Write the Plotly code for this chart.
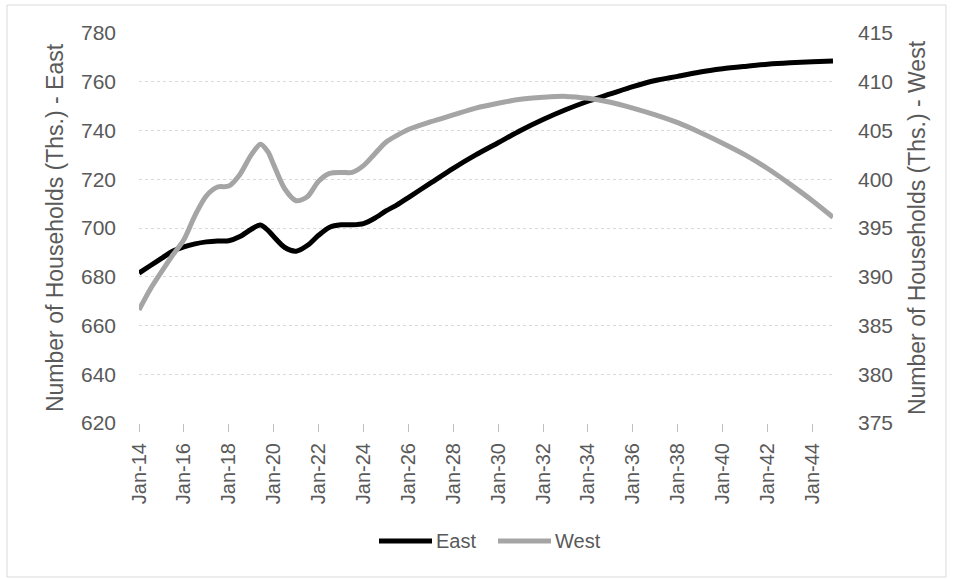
import plotly.graph_objects as go

# Household projections, sampled half-yearly (thousands)
dates = [
    "2014-01-01", "2014-07-01", "2015-01-01", "2015-07-01", "2016-01-01", "2016-07-01",
    "2017-01-01", "2017-07-01", "2018-01-01", "2018-07-01", "2019-01-01", "2019-06-01",
    "2019-10-01", "2020-01-01", "2020-07-01", "2021-01-01", "2021-07-01", "2022-01-01",
    "2022-07-01", "2023-01-01", "2023-07-01", "2024-01-01", "2024-07-01", "2025-01-01",
    "2025-07-01", "2026-01-01", "2027-01-01", "2028-01-01", "2029-01-01", "2030-01-01",
    "2031-01-01", "2032-01-01", "2033-01-01", "2034-01-01", "2035-01-01", "2036-01-01",
    "2037-01-01", "2038-01-01", "2039-01-01", "2040-01-01", "2041-01-01", "2042-01-01",
    "2043-01-01", "2044-01-01", "2044-12-01",
]

east = [
    681.5, 684.5, 687.5, 690.5, 692.3, 693.5,
    694.3, 694.7, 694.8, 696.5, 699.5, 701.2,
    699.0, 696.5, 692.0, 690.5, 692.8, 697.0,
    700.3, 701.3, 701.3, 701.8, 704.0, 707.0,
    709.5, 712.5, 718.5, 724.5, 730.0, 735.0,
    740.0, 744.5, 748.5, 752.0, 755.0, 758.0,
    760.5, 762.2, 764.0, 765.3, 766.3, 767.2,
    767.8, 768.2, 768.5,
]

west = [
    386.6, 388.7, 390.5, 392.2, 393.8, 396.3,
    398.3, 399.2, 399.3, 400.5, 402.5, 403.6,
    402.8, 401.5, 399.0, 397.8, 398.2, 399.8,
    400.6, 400.7, 400.7, 401.4, 402.6, 403.8,
    404.5, 405.1, 405.9, 406.6, 407.3, 407.8,
    408.2, 408.4, 408.5, 408.3, 407.9, 407.3,
    406.6, 405.8, 404.8, 403.7, 402.5, 401.1,
    399.5, 397.8, 396.1,
]

series_names = ["East", "West"]
series_colors = ["#000000", "#a5a5a5"]

left_title = "Number of Households (Ths.) - East"
right_title = "Number of Households (Ths.) - West"

FONT = "Liberation Sans"
TXT = "#595959"
GRID = "#d9d9d9"

fig = go.Figure()
fig.add_trace(go.Scatter(
    x=dates, y=east, name=series_names[0], mode="lines",
    line=dict(color=series_colors[0], width=5, shape="spline", smoothing=0.8),
))
fig.add_trace(go.Scatter(
    x=dates, y=west, name=series_names[1], mode="lines", yaxis="y2",
    line=dict(color=series_colors[1], width=5, shape="spline", smoothing=0.8),
))

W, H = 953, 579
L, R, T, B = 139, 120, 33, 156
pw, ph = W - L - R, H - T - B


def px_x(v):
    return (v - L) / pw


def px_y(v):
    return (H - B - v) / ph


fig.update_layout(
    width=W, height=H,
    margin=dict(l=L, r=R, t=T, b=B),
    paper_bgcolor="white", plot_bgcolor="white",
    font=dict(family=FONT, size=20, color=TXT),
    showlegend=False,
    xaxis=dict(
        type="date",
        range=["2014-01-01", "2044-12-01"],
        tick0="2014-01-01", dtick="M24", tickformat="%b-%y",
        tickangle=-90,
        ticks="outside", ticklen=8, tickcolor="#bfbfbf",
        ticklabelstandoff=3,
        showline=False, showgrid=False, zeroline=False,
        tickfont=dict(family=FONT, size=20, color=TXT),
    ),
    yaxis=dict(
        range=[620, 780], dtick=20,
        showgrid=True, gridcolor=GRID, griddash="dot", gridwidth=1,
        zeroline=False, showline=False, ticks="",
        ticklabelstandoff=22,
        tickfont=dict(family=FONT, size=21, color=TXT),
        title=dict(text=left_title, standoff=10,
                   font=dict(family=FONT, size=23, color=TXT)),
    ),
    yaxis2=dict(
        range=[375, 415], dtick=5, overlaying="y", side="right",
        showgrid=False, zeroline=False, showline=False, ticks="",
        ticklabelstandoff=24,
        tickfont=dict(family=FONT, size=21, color=TXT),
        title=dict(text=right_title, standoff=16,
                   font=dict(family=FONT, size=23, color=TXT)),
    ),
)

# chart area border
fig.add_shape(
    type="rect", xref="paper", yref="paper",
    x0=px_x(7), x1=px_x(946), y0=px_y(577), y1=px_y(5),
    line=dict(color=GRID, width=1), fillcolor="rgba(0,0,0,0)", layer="below",
)

# legend below the plot: line sample followed by series name
legend_y = px_y(541)
for name, color, x_start in zip(series_names, series_colors, [379, 498]):
    fig.add_shape(
        type="line", xref="paper", yref="paper",
        x0=px_x(x_start), x1=px_x(x_start + 53), y0=legend_y, y1=legend_y,
        line=dict(color=color, width=5),
    )
    fig.add_annotation(
        xref="paper", yref="paper", x=px_x(x_start + 55), y=legend_y,
        text=name, showarrow=False, xanchor="left", yanchor="middle",
        font=dict(family=FONT, size=20, color=TXT),
    )

fig.write_html("out.html")
